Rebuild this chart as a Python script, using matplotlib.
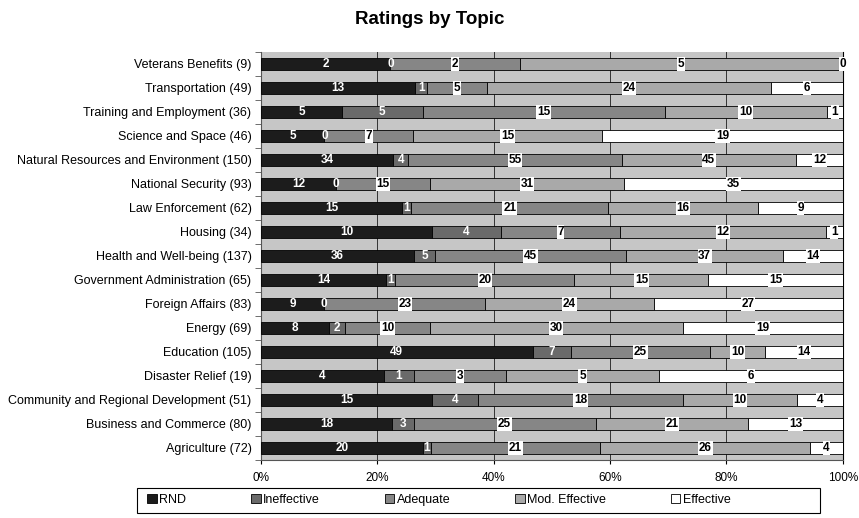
import matplotlib
matplotlib.use('Agg')
import matplotlib.pyplot as plt
import numpy as np
from matplotlib.patches import Rectangle
from matplotlib.ticker import FixedLocator, PercentFormatter

plt.rcParams['font.family'] = ['Liberation Sans', 'DejaVu Sans']

# Topic counts per rating, listed top row first
topics = [
    'Veterans Benefits (9)', 'Transportation (49)', 'Training and Employment (36)',
    'Science and Space (46)', 'Natural Resources and Environment (150)',
    'National Security (93)', 'Law Enforcement (62)', 'Housing (34)',
    'Health and Well-being (137)', 'Government Administration (65)',
    'Foreign Affairs (83)', 'Energy (69)', 'Education (105)', 'Disaster Relief (19)',
    'Community and Regional Development (51)', 'Business and Commerce (80)',
    'Agriculture (72)',
]
rnd = [2, 13, 5, 5, 34, 12, 15, 10, 36, 14, 9, 8, 49, 4, 15, 18, 20]
ineffective = [0, 1, 5, 0, 4, 0, 1, 4, 5, 1, 0, 2, 7, 1, 4, 3, 1]
adequate = [2, 5, 15, 7, 55, 15, 21, 7, 45, 20, 23, 10, 25, 3, 18, 25, 21]
mod_effective = [5, 24, 10, 15, 45, 31, 16, 12, 37, 15, 24, 30, 10, 5, 10, 21, 26]
effective = [0, 6, 1, 19, 12, 35, 9, 1, 14, 15, 27, 19, 14, 6, 4, 13, 4]

series_names = ['RND', 'Ineffective', 'Adequate', 'Mod. Effective', 'Effective']
series = [rnd, ineffective, adequate, mod_effective, effective]
colors = ['#1c1c1c', '#6a6a6a', '#868686', '#a9a9a9', '#ffffff']
light_text = [True, True, False, False, False]

counts = np.array(series, dtype=float)
totals = counts.sum(axis=0)
shares = counts / totals

W, H = 859, 518
fig = plt.figure(figsize=(W / 100, H / 100), dpi=100)
ax = fig.add_axes([0.304, 0.112, 0.677, 0.788])
ax.set_facecolor('#c6c6c6')

y = np.arange(len(topics))
left = np.zeros(len(topics))
for name, vals, share, col, light in zip(series_names, series, shares, colors, light_text):
    ax.barh(y, share, left=left, height=0.5, color=col, edgecolor='black',
            linewidth=0.6, label=name, zorder=3)
    for yi, v, s, l0 in zip(y, vals, share, left):
        cx = l0 + s / 2
        if light:
            ax.text(cx, yi, str(v), ha='center', va='center', fontsize=8.5,
                    fontweight='bold', color='white', zorder=4)
        else:
            ax.text(cx, yi, str(v), ha='center', va='center', fontsize=8.5,
                    fontweight='bold', color='black', zorder=4,
                    bbox=dict(facecolor='white', edgecolor='none', pad=0.5))
    left = left + share

ax.set_xlim(0, 1)
ax.set_ylim(len(topics) - 0.5, -0.5)
ax.set_xticks(np.linspace(0, 1, 6))
ax.xaxis.set_major_formatter(PercentFormatter(1.0, decimals=0))
ax.tick_params(axis='x', length=3, labelsize=8.5, pad=6)
ax.set_yticks(y)
ax.set_yticklabels(topics, fontsize=9)
ax.tick_params(axis='y', length=0, pad=7)
ax.yaxis.set_minor_locator(FixedLocator(np.arange(-0.5, len(topics), 1)))
ax.tick_params(axis='y', which='minor', length=4, color='#555555')
ax.grid(axis='x', color='#333333', linewidth=0.7, zorder=1)

ax.spines['top'].set_visible(False)
ax.spines['right'].set_color('black')
ax.spines['left'].set_color('#555555')
ax.spines['bottom'].set_color('#555555')

fig.text(0.5, 0.963, 'Ratings by Topic', ha='center', va='center',
         fontsize=13.5, fontweight='bold')

# legend row inside a wide box under the axes
fig.add_artist(Rectangle((137 / W, 1 - 513 / H), (820 - 137) / W, 25 / H,
                         transform=fig.transFigure, facecolor='white',
                         edgecolor='black', linewidth=0.8))
leg = fig.legend(loc='center left', bbox_to_anchor=(141 / W, 1 - 500 / H),
                 ncol=5, fontsize=9, frameon=False,
                 handlelength=0.75, handleheight=0.75, handletextpad=0.2,
                 columnspacing=5.2, borderpad=0)
leg.set_zorder(5)

fig.savefig('out.png', dpi=100)
